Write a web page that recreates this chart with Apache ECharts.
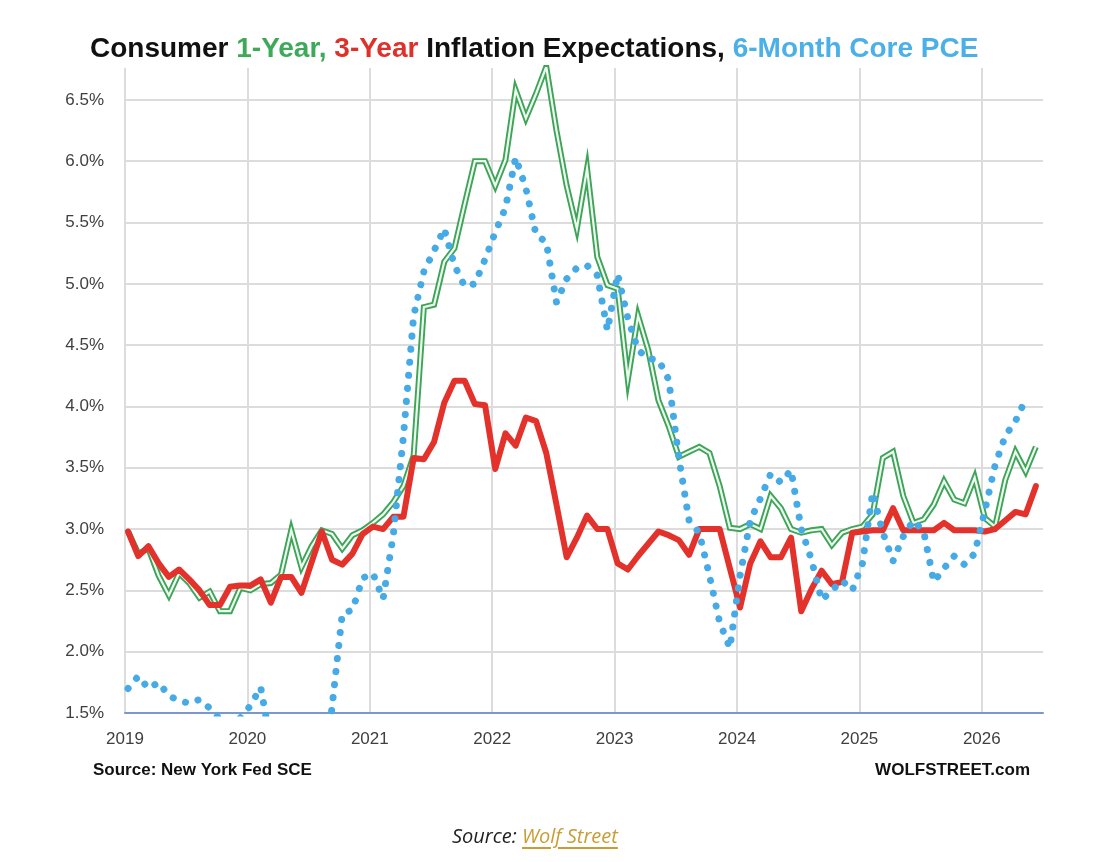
<!DOCTYPE html>
<html>
<head>
<meta charset="utf-8">
<title>Consumer Inflation Expectations</title>
<script src="https://cdn.jsdelivr.net/npm/echarts@6/dist/echarts.min.js"></script>
<style>
  html, body { margin: 0; padding: 0; background: #fff; }
  #main { width: 1114px; height: 862px; }
  .caption {
    position: absolute; left: 452px; top: 822px;
    font-family: 'Open Sans', sans-serif; font-style: italic; font-size: 20px; color: #222;
  }
  .caption a { color: #c99d35; text-decoration: underline; text-underline-offset: 4px; text-decoration-thickness: 2px; }
</style>
</head>
<body>
<div id="main"></div>
<div class="caption">Source: <a>Wolf Street</a></div>
<script>
// monthly values, first month = Jan 2019
const startYear = 2019;

const oneYear = [
  2.98, 2.80, 2.84, 2.62, 2.46, 2.64, 2.56, 2.44, 2.49, 2.33, 2.33, 2.52,
  2.50, 2.55, 2.56, 2.63, 2.99, 2.69, 2.86, 2.99, 2.96, 2.84, 2.95, 2.99,
  3.05, 3.12, 3.22, 3.35, 3.60, 4.81, 4.83, 5.18, 5.29, 5.65, 6.00, 6.00,
  5.80, 6.01, 6.58, 6.35, 6.55, 6.77, 6.25, 5.80, 5.45, 5.94, 5.22, 4.99,
  4.96, 4.22, 4.74, 4.46, 4.05, 3.84, 3.59, 3.63, 3.67, 3.62, 3.35, 3.01,
  3.00, 3.04, 3.00, 3.27, 3.17, 3.00, 2.97, 2.99, 3.00, 2.87, 2.97, 3.00,
  3.02, 3.12, 3.58, 3.63, 3.27, 3.05, 3.08, 3.20, 3.39, 3.24, 3.21, 3.42,
  3.09, 3.02, 3.40, 3.63, 3.47, 3.67
];

const threeYear = [
  2.98, 2.78, 2.86, 2.72, 2.61, 2.67, 2.59, 2.50, 2.38, 2.38, 2.53, 2.54,
  2.54, 2.59, 2.40, 2.61, 2.61, 2.48, 2.73, 2.98, 2.75, 2.71, 2.80, 2.96,
  3.02, 3.00, 3.10, 3.10, 3.58, 3.57, 3.71, 4.03, 4.21, 4.21, 4.02, 4.01,
  3.49, 3.78, 3.68, 3.91, 3.88, 3.62, 3.20, 2.77, 2.93, 3.11, 3.00, 3.00,
  2.72, 2.67, 2.78, 2.88, 2.98, 2.95, 2.91, 2.79, 3.00, 3.00, 3.00, 2.68,
  2.36, 2.72, 2.90, 2.77, 2.77, 2.93, 2.33, 2.51, 2.66, 2.55, 2.57, 2.97,
  2.98, 2.99, 2.99, 3.17, 2.99, 2.99, 2.99, 2.99, 3.05, 2.99, 2.99, 2.99,
  2.98, 3.00, 3.07, 3.14, 3.12, 3.35
];

const corePce = [
  1.70, 1.80, 1.70, 1.75, 1.64, 1.60, 1.58, 1.61, 1.54, 1.45, 1.42, 1.46,
  1.56, 1.71, 1.25, 0.90, 0.70, 0.60, 0.70, 0.80, 1.55, 2.31, 2.34, 2.60,
  2.64, 2.43, 2.95, 3.76, 4.74, 5.10, 5.27, 5.45, 5.15, 4.98, 5.00, 5.20,
  5.42, 5.62, 6.03, 5.78, 5.40, 5.34, 4.85, 5.04, 5.13, 5.15, 5.07, 4.62,
  5.08, 4.72, 4.46, 4.39, 4.38, 4.22, 3.58, 3.07, 2.97, 2.62, 2.24, 2.03,
  2.62, 3.07, 3.25, 3.45, 3.38, 3.48, 3.00, 2.75, 2.42, 2.50, 2.58, 2.50,
  2.72, 3.30, 2.97, 2.74, 2.94, 3.07, 2.98, 2.57, 2.68, 2.78, 2.71, 2.80,
  3.15, 3.52, 3.76, 3.88, 4.06, null
];

const yearTicks = [2019, 2020, 2021, 2022, 2023, 2024, 2025, 2026];
const pctTicks = [1.5, 2.0, 2.5, 3.0, 3.5, 4.0, 4.5, 5.0, 5.5, 6.0, 6.5];

const green = '#3da458';
const red = '#e3322b';
const blue = '#45aae6';
const grey = '#dcdcdc';

// put each month on the decimal-year axis
const toPairs = arr => arr.map((v, i) => [startYear + (i + 0.3) / 12, v]);

const chart = echarts.init(document.getElementById('main'), null, { renderer: 'canvas' });

const option = {
  backgroundColor: '#fff',
  animation: false,
  title: {
    left: 85,
    top: 30,
    text: '{k|Consumer }{g|1-Year, }{r|3-Year }{k|Inflation Expectations, }{b|6-Month Core PCE}',
    textStyle: {
      rich: {
        k: { color: '#111', fontSize: 28, fontWeight: 'bold', fontFamily: 'Liberation Sans' },
        g: { color: '#3fa95a', fontSize: 28, fontWeight: 'bold', fontFamily: 'Liberation Sans' },
        r: { color: '#e0302a', fontSize: 28, fontWeight: 'bold', fontFamily: 'Liberation Sans' },
        b: { color: '#4cb0e8', fontSize: 28, fontWeight: 'bold', fontFamily: 'Liberation Sans' }
      }
    }
  },
  grid: { left: 125, right: 71, top: 68, bottom: 149 },
  xAxis: {
    type: 'value',
    min: yearTicks[0],
    max: yearTicks[yearTicks.length - 1] + 0.5,
    interval: 1,
    axisLine: { show: true, lineStyle: { color: '#7c97d0', width: 2 } },
    axisTick: { show: false },
    axisLabel: {
      showMaxLabel: false,
      margin: 18,
      color: '#404040',
      fontSize: 17,
      fontFamily: 'Liberation Sans',
      formatter: v => String(v)
    },
    splitLine: {
      show: true,
      lineStyle: { width: 2, color: yearTicks.map(() => grey).concat(['rgba(0,0,0,0)']) }
    }
  },
  yAxis: {
    type: 'value',
    min: pctTicks[0],
    max: 6.76,
    interval: 0.5,
    axisLine: { show: false },
    axisTick: { show: false },
    axisLabel: {
      showMaxLabel: false,
      margin: 21,
      color: '#404040',
      fontSize: 17,
      fontFamily: 'Liberation Sans',
      formatter: v => v.toFixed(1) + '%'
    },
    splitLine: {
      show: true,
      lineStyle: { width: 2, color: pctTicks.map(() => grey).concat(['rgba(0,0,0,0)']) }
    }
  },
  graphic: [
    {
      type: 'text', left: 93, top: 762,
      style: { text: 'Source: New York Fed SCE', fill: '#111', font: 'bold 17px "Liberation Sans"' }
    },
    {
      type: 'text', right: 84, top: 762,
      style: { text: 'WOLFSTREET.com', fill: '#111', font: 'bold 17px "Liberation Sans"' }
    }
  ],
  series: [
    {
      name: '1-Year outer', type: 'line', data: toPairs(oneYear), showSymbol: false, silent: true,
      lineStyle: { color: green, width: 6, join: 'miter' }, z: 2
    },
    {
      name: '1-Year inner', type: 'line', data: toPairs(oneYear), showSymbol: false, silent: true,
      lineStyle: { color: '#eef9f0', width: 2.2, join: 'miter' }, z: 3
    },
    {
      name: '3-Year', type: 'line', data: toPairs(threeYear), showSymbol: false, silent: true,
      lineStyle: { color: red, width: 6, join: 'round', cap: 'round' }, z: 4
    },
    {
      name: '6-Month Core PCE', type: 'line', data: toPairs(corePce), showSymbol: false, silent: true,
      lineStyle: { color: blue, width: 7, type: [0.1, 13], cap: 'round', join: 'round' }, z: 5
    }
  ]
};

chart.setOption(option);
</script>
</body>
</html>
